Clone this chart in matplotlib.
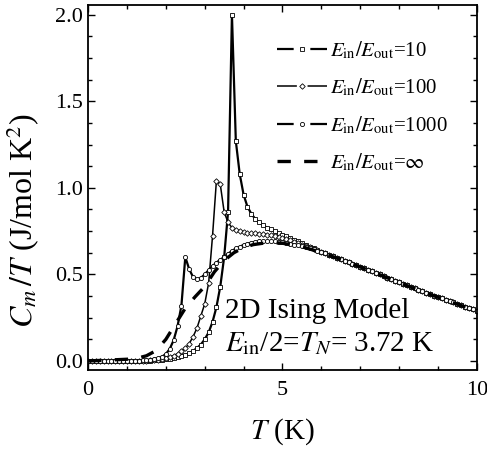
import numpy as np
import matplotlib
matplotlib.use('Agg')
import matplotlib.pyplot as plt
from matplotlib.ticker import MultipleLocator, FormatStrFormatter
from matplotlib.lines import Line2D

plt.rcParams['font.family'] = ['Liberation Serif', 'DejaVu Serif']
plt.rcParams['mathtext.fontset'] = 'stix'

# temperature grid of the simulated curves (K)
T = np.round(np.arange(0, 10.01, 0.1), 1)

# E_in/E_out = 10 (squares)
cm_10 = [0.000, 0.000, 0.000, 0.000, 0.000, 0.000, 0.000, 0.000, 0.000, 0.000,
         0.000, 0.000, 0.000, 0.000, 0.001, 0.001, 0.002, 0.003, 0.005, 0.007,
         0.010, 0.013, 0.017, 0.022, 0.028, 0.035, 0.045, 0.058, 0.075, 0.095,
         0.125, 0.165, 0.225, 0.310, 0.430, 0.600, 0.860, 2.000, 1.270, 1.080,
         0.960, 0.890, 0.850, 0.820, 0.800, 0.785, 0.770, 0.760, 0.750, 0.740,
         0.730, 0.720, 0.710, 0.700, 0.690, 0.680, 0.670, 0.660, 0.650, 0.640,
         0.632, 0.622, 0.613, 0.605, 0.597, 0.588, 0.579, 0.570, 0.561, 0.553,
         0.545, 0.536, 0.527, 0.518, 0.509, 0.500, 0.491, 0.482, 0.473, 0.464,
         0.455, 0.446, 0.437, 0.428, 0.419, 0.410, 0.402, 0.394, 0.386, 0.378,
         0.370, 0.362, 0.354, 0.346, 0.338, 0.330, 0.322, 0.314, 0.306, 0.298,
         0.290]

# E_in/E_out = 100 (diamonds)
cm_100 = [0.000, 0.000, 0.000, 0.000, 0.000, 0.000, 0.000, 0.000, 0.000, 0.000,
          0.000, 0.000, 0.000, 0.001, 0.001, 0.002, 0.003, 0.005, 0.008, 0.012,
          0.017, 0.023, 0.031, 0.042, 0.056, 0.075, 0.100, 0.140, 0.190, 0.260,
          0.330, 0.450, 0.720, 1.040, 1.020, 0.860, 0.800, 0.770, 0.757, 0.750,
          0.745, 0.740, 0.738, 0.737, 0.735, 0.733, 0.730, 0.725, 0.720, 0.715,
          0.710, 0.703, 0.696, 0.688, 0.680, 0.672, 0.664, 0.656, 0.648, 0.640,
          0.630, 0.622, 0.613, 0.605, 0.597, 0.588, 0.579, 0.570, 0.561, 0.553,
          0.545, 0.536, 0.527, 0.518, 0.509, 0.500, 0.491, 0.482, 0.473, 0.464,
          0.455, 0.446, 0.437, 0.428, 0.419, 0.410, 0.402, 0.394, 0.386, 0.378,
          0.370, 0.362, 0.354, 0.346, 0.338, 0.330, 0.322, 0.314, 0.306, 0.298,
          0.290]

# E_in/E_out = 1000 (circles)
cm_1000 = [0.000, 0.000, 0.000, 0.000, 0.000, 0.000, 0.000, 0.000, 0.000, 0.000,
           0.000, 0.001, 0.001, 0.002, 0.003, 0.005, 0.008, 0.012, 0.017, 0.025,
           0.040, 0.070, 0.120, 0.200, 0.320, 0.600, 0.530, 0.485, 0.472, 0.480,
           0.500, 0.525, 0.548, 0.568, 0.585, 0.600, 0.620, 0.635, 0.650, 0.660,
           0.670, 0.677, 0.683, 0.688, 0.690, 0.692, 0.692, 0.692, 0.690, 0.688,
           0.685, 0.680, 0.676, 0.672, 0.667, 0.662, 0.656, 0.650, 0.644, 0.637,
           0.630, 0.622, 0.613, 0.605, 0.597, 0.588, 0.579, 0.570, 0.561, 0.553,
           0.545, 0.536, 0.527, 0.518, 0.509, 0.500, 0.491, 0.482, 0.473, 0.464,
           0.455, 0.446, 0.437, 0.428, 0.419, 0.410, 0.402, 0.394, 0.386, 0.378,
           0.370, 0.362, 0.354, 0.346, 0.338, 0.330, 0.322, 0.314, 0.306, 0.298,
           0.290]

# E_in/E_out = infinity (dashed line)
T_inf = [0.0, 0.5, 1.0, 1.25, 1.5, 1.75, 2.0, 2.25, 2.5, 2.75, 3.0, 3.25, 3.5,
         3.75, 4.0, 4.25, 4.5, 4.75, 5.0, 5.5, 6.0, 6.5, 7.0, 7.5, 8.0, 8.5,
         9.0, 9.5, 10.0]
cm_inf = [0.000, 0.005, 0.010, 0.015, 0.030, 0.060, 0.125, 0.215, 0.305, 0.370,
          0.430, 0.515, 0.580, 0.625, 0.655, 0.672, 0.680, 0.683, 0.680, 0.660,
          0.626, 0.586, 0.543, 0.498, 0.453, 0.409, 0.368, 0.328, 0.288]

labels = [r'$E_{\rm in}/E_{\rm out}$=10', r'$E_{\rm in}/E_{\rm out}$=100',
          r'$E_{\rm in}/E_{\rm out}$=1000', r'$E_{\rm in}/E_{\rm out}$=$\infty$']

fig = plt.figure(figsize=(4.87, 4.49), dpi=100)
ax = fig.add_axes([0.181, 0.176, 0.798, 0.813])

mk = dict(markerfacecolor='white', markeredgecolor='black', markeredgewidth=0.6)
ax.plot(T, cm_10, '-', color='black', lw=1.6, marker='s', ms=3.0, **mk)
ax.plot(T, cm_100, '-', color='black', lw=1.1, marker='D', ms=2.8, **mk)
ax.plot(T, cm_1000, '-', color='black', lw=1.6, marker='o', ms=3.0, **mk)
ax.plot(T_inf, cm_inf, color='black', lw=2.4, ls=(0, (4, 4)))

# legend handles drawn Origin-style: line broken around the symbol
handles = [
    Line2D([], [], color='black', lw=1.6, ls=(0, (7.5, 7.5)), marker='s', ms=3.0, **mk),
    Line2D([], [], color='black', lw=1.1, ls=(0, (13, 7)), marker='D', ms=2.8, **mk),
    Line2D([], [], color='black', lw=1.6, ls=(0, (7.5, 7.5)), marker='o', ms=3.0, **mk),
    Line2D([], [], color='black', lw=2.4, ls=(0, (4, 4))),
]

ax.set_xlim(0, 10)
ax.set_ylim(-0.052, 2.056)
ax.xaxis.set_major_locator(MultipleLocator(5))
ax.xaxis.set_minor_locator(MultipleLocator(1))
ax.yaxis.set_major_locator(MultipleLocator(0.5))
ax.yaxis.set_minor_locator(MultipleLocator(0.125))
ax.yaxis.set_major_formatter(FormatStrFormatter('%.1f'))
ax.tick_params(which='both', direction='in', top=True, right=True, labelsize=16, width=1.0)
ax.tick_params(which='major', length=5)
ax.tick_params(which='minor', length=3)
ax.tick_params(axis='x', pad=8)
for sp in ax.spines.values():
    sp.set_linewidth(1.3)

ax.set_xlabel(r'$T$ (K)', fontsize=21, labelpad=12)
ax.set_ylabel(r'$C_m\,/T$ (J/mol K$^2$)', fontsize=23)
ax.yaxis.set_label_coords(-0.118, 0.41)

ax.legend(handles, labels, loc='upper left', frameon=False, fontsize=15, handlelength=2.4,
          handletextpad=0.15, labelspacing=0.75, borderpad=0, borderaxespad=0,
          bbox_to_anchor=(0.486, 0.905))

ax.text(0.352, 0.142, '2D Ising Model', transform=ax.transAxes, fontsize=21)
ax.text(0.352, 0.052, r'$E_{\rm in}$/2=$T_N$= 3.72 K', transform=ax.transAxes, fontsize=21)

fig.savefig('out.png', dpi=100)
